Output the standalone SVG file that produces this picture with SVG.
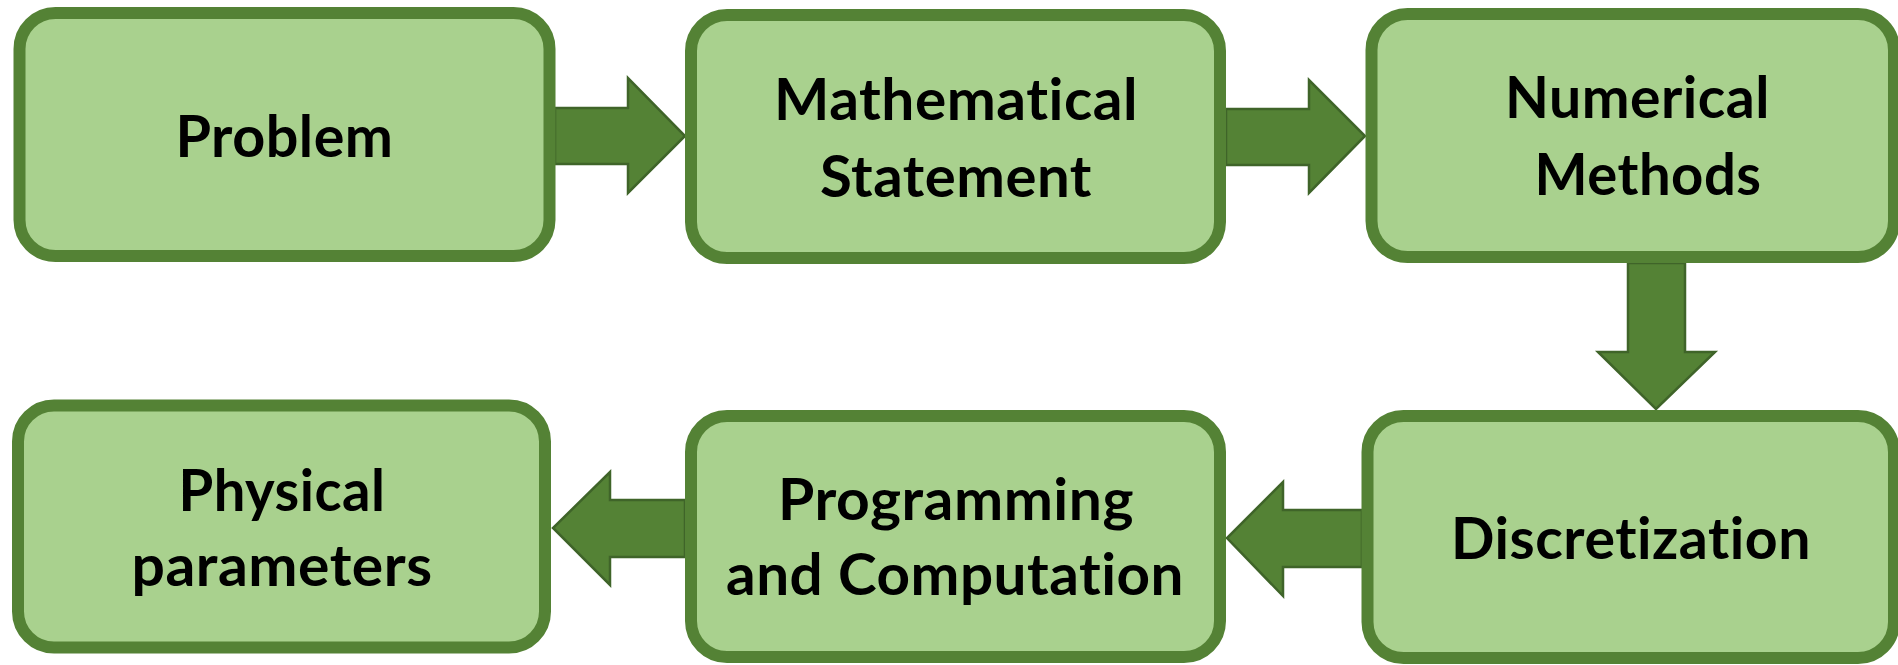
<svg xmlns="http://www.w3.org/2000/svg" width="1898" height="665" viewBox="0 0 1898 665">
<style>
.box{fill:#A9D18E;stroke:#548235;stroke-width:12}
.arr{fill:#548235;stroke:#3F6429;stroke-width:2.5;stroke-linejoin:miter}
.t{font-family:Lato,"Open Sans","Liberation Sans",sans-serif;font-weight:bold;font-size:57px;fill:#000;text-anchor:middle;letter-spacing:0.5px;font-variant-ligatures:none;font-feature-settings:"liga" 0,"clig" 0,"dlig" 0}
</style>
<rect width="1898" height="665" fill="#fff"/>
<g id="connectors">
<polygon class="arr" points="555,108 628,108 628,78 685,136 628,193 628,164 555,164"/>
<polygon class="arr" points="1226,109 1309,109 1309,80 1365,136 1309,193 1309,165 1226,165"/>
<polygon class="arr" points="1628,263 1685,263 1685,352 1715,352 1656,409 1598,352 1628,352"/>
<polygon class="arr" points="1362,510 1283,510 1283,482 1227,538 1283,596 1283,567 1362,567"/>
<polygon class="arr" points="685,500 610,500 610,472 553,528 610,585 610,557 685,557"/>
</g>
<g id="n1"><rect class="box" x="19.5" y="13" width="530" height="243" rx="36"/>
<text class="t" x="284.5" y="157" textLength="218" lengthAdjust="spacingAndGlyphs">Problem</text></g>
<g id="n2"><rect class="box" x="691" y="15" width="529" height="243" rx="36"/>
<text class="t" x="956" y="120" textLength="364" lengthAdjust="spacingAndGlyphs">Mathematical</text>
<text class="t" x="956" y="197" textLength="272" lengthAdjust="spacingAndGlyphs">Statement</text></g>
<g id="n3"><rect class="box" x="1371.5" y="14" width="522.5" height="243" rx="36"/>
<text class="t" x="1637.5" y="118" textLength="265" lengthAdjust="spacingAndGlyphs">Numerical</text>
<text class="t" x="1648" y="195" textLength="227" lengthAdjust="spacingAndGlyphs">Methods</text></g>
<g id="n4"><rect class="box" x="1367.5" y="416" width="526.5" height="242" rx="36"/>
<text class="t" x="1631" y="559" textLength="360" lengthAdjust="spacingAndGlyphs">Discretization</text></g>
<g id="n5"><rect class="box" x="691" y="416" width="529" height="241" rx="36"/>
<text class="t" x="956" y="520" textLength="356" lengthAdjust="spacingAndGlyphs">Programming</text>
<text class="t" x="955" y="595" textLength="458" lengthAdjust="spacingAndGlyphs">and Computation</text></g>
<g id="n6"><rect class="box" x="18" y="405.5" width="527" height="242" rx="36"/>
<text class="t" x="282" y="511" textLength="207" lengthAdjust="spacingAndGlyphs">Physical</text>
<text class="t" x="282" y="586" textLength="301" lengthAdjust="spacingAndGlyphs">parameters</text></g>
</svg>
